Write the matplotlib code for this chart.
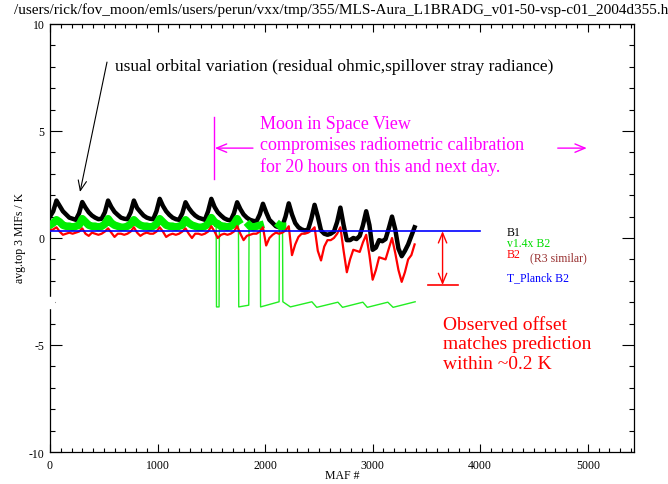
import numpy as np
import matplotlib
matplotlib.use("Agg")
import matplotlib.pyplot as plt
from matplotlib.ticker import MultipleLocator
from matplotlib.patches import Rectangle

plt.rcParams["font.family"] = "Liberation Serif"

# MAF grid of the B1 / B2 traces (one sample every 30 MAF)
maf = np.arange(0, 3400, 30)

# B1, avg. top 3 MIFs (K)
b1 = [1.0, 1.25, 1.75, 1.5, 1.25, 1.1, 0.95, 0.9, 0.85, 1.15,
      1.68, 1.42, 1.2, 1.05, 0.95, 0.88, 0.9, 1.2, 1.75, 1.45,
      1.22, 1.08, 0.95, 0.9, 0.88, 1.2, 1.75, 1.4, 1.22, 1.05,
      0.95, 0.9, 0.88, 1.25, 1.83, 1.5, 1.25, 1.08, 0.95, 0.88,
      0.85, 1.15, 1.67, 1.4, 1.2, 1.05, 0.95, 0.9, 0.85, 1.25,
      1.83, 1.45, 1.2, 1.05, 0.92, 0.85, 0.82, 1.15, 1.67, 1.35,
      1.1, 0.95, 0.85, 0.8, 0.78, 1.1, 1.6, 1.2, 0.85, 0.7,
      0.55, 0.5, 0.55, 1.0, 1.62, 1.1, 0.7, 0.5, 0.4, 0.35,
      0.4, 0.9, 1.55, 1.0, 0.35, 0.2, 0.15, 0.2, 0.3, 0.75,
      1.42, 0.6, -0.1, -0.1, 0.0, -0.05, 0.1, 0.6, 1.25, 0.6,
      -0.55, -0.45, -0.1, -0.15, -0.05, 0.45, 1.0, 0.4, -0.5, -0.85,
      -0.6, -0.3, 0.1, 0.5]

# B2 (K)
b2 = [0.35, 0.4, 0.5, 0.3, 0.15, 0.2, 0.25, 0.2, 0.25, 0.3,
      0.45, 0.2, 0.1, 0.25, 0.2, 0.15, 0.2, 0.3, 0.45, 0.25,
      0.05, 0.2, 0.2, 0.15, 0.2, 0.3, 0.5, 0.25, 0.1, 0.2,
      0.25, 0.2, 0.2, 0.3, 0.5, 0.3, 0.05, 0.15, 0.2, 0.15,
      0.2, 0.3, 0.45, 0.2, 0.0, 0.2, 0.2, 0.15, 0.2, 0.3,
      0.55, 0.3, 0.0, 0.15, 0.2, 0.15, 0.2, 0.3, 0.55, 0.2,
      -0.1, 0.1, 0.15, 0.2, 0.2, 0.3, 0.5, -0.35, 0.0, 0.15,
      0.25, 0.2, 0.25, 0.35, 0.55, -0.8, -0.3, 0.05, 0.2, 0.2,
      0.25, 0.35, 0.5, -0.6, -1.05, -0.4, -0.1, -0.1, 0.0, 0.2,
      0.5, -0.6, -1.6, -1.0, -0.55, -0.6, -0.65, -0.2, 0.15, -0.8,
      -1.95, -1.5, -0.9, -0.95, -1.0, -0.5, 0.0, -0.7, -1.5, -2.05,
      -1.6, -1.0, -0.8, -0.3]

# v1.4x B2, with its drop-outs to about -3 K
green_maf = list(range(0, 1560, 30)) + [
    1545, 1548, 1572, 1575, 1590, 1620, 1650, 1680, 1710, 1740, 1752,
    1755, 1848, 1851, 1860, 1890, 1920, 1955, 1958, 2130, 2133,
    2145, 2162, 2165, 2235, 2435, 2480, 2677, 2720, 2909, 2950,
    3141, 3190, 3395]
green_k = [0.6, 0.7, 0.85, 0.75, 0.6, 0.55, 0.55, 0.5, 0.55, 0.6,
           0.9, 0.75, 0.6, 0.55, 0.55, 0.5, 0.55, 0.65, 0.9, 0.7,
           0.6, 0.55, 0.5, 0.5, 0.55, 0.65, 0.85, 0.7, 0.6, 0.55,
           0.55, 0.5, 0.55, 0.65, 0.9, 0.75, 0.6, 0.55, 0.55, 0.5,
           0.55, 0.6, 0.85, 0.7, 0.6, 0.55, 0.5, 0.5, 0.55, 0.65,
           0.95, 0.75] + [
    0.7, -3.22, -3.22, 0.6, 0.55, 0.55, 0.5, 0.55, 0.65, 0.9, 0.8,
    -3.22, -3.14, 0.6, 0.55, 0.5, 0.55, 0.6, -3.22, -2.98, 0.6,
    0.55, 0.55, -2.98, -3.22, -2.98, -3.24, -3.0, -3.24, -3.0, -3.24,
    -3.0, -3.24, -2.98]

# T_Planck B2 prediction and the observed offset
t_planck = 0.32
t_planck_maf = [0, 4000]
offset_low = -2.2
offset_maf = 3650

path = ("/users/rick/fov_moon/emls/users/perun/vxx/tmp/355/"
        "MLS-Aura_L1BRADG_v01-50-vsp-c01_2004d355.h5")

fig = plt.figure(figsize=(6.68, 4.85), dpi=100)
ax = fig.add_axes([50 / 668, 32 / 485, 584 / 668, 428 / 485])

green_maf = np.array(green_maf)
green_k = np.array(green_k)

ax.plot(maf, b1, color="black", lw=3.2, zorder=2)
ax.plot(green_maf, green_k, color="#22ee22", lw=1.0, zorder=3)
ax.plot(green_maf, np.where(green_k > -1, green_k, np.nan),
        color="#00ee00", lw=5.5, zorder=3)
ax.plot(maf, b2, color="red", lw=1.6, zorder=4)
ax.plot(t_planck_maf, [t_planck, t_planck], color="blue", lw=1.2, zorder=5)

ax.set_xlim(0, 5430)
ax.set_ylim(-10, 10)
ax.set_xticks(range(0, 5001, 1000))
ax.set_yticks([-10, -5, 0, 5, 10])
ax.set_yticklabels(["-10", "-5", "0", "5", "10"])
ax.xaxis.set_minor_locator(MultipleLocator(100))
ax.yaxis.set_minor_locator(MultipleLocator(1))
ax.tick_params(which="both", direction="in", top=True, right=True,
               labelsize=8.5, width=0.8)
ax.tick_params(axis="y", which="major", length=8.6, pad=4)
ax.tick_params(axis="y", which="minor", length=3.6)
ax.tick_params(axis="x", which="major", length=5.8, pad=5)
ax.tick_params(axis="x", which="minor", length=3.2)
for s in ax.spines.values():
    s.set_linewidth(0.9)

fig.text(14 / 668, 1 - 10 / 485, path, ha="left", va="center", fontsize=11)
fig.text(20 / 668, 1 - 238 / 485, "avg.top 3 MIFs / K", rotation=90,
         ha="center", va="center", fontsize=8.5)
fig.text(342 / 668, 1 - 476 / 485, "MAF #", ha="center", va="center",
         fontsize=8.5)
# small blank in the left frame near -3 K
fig.add_artist(Rectangle((46 / 668, 1 - 309 / 485), 8 / 668, 11 / 485,
                         transform=fig.transFigure, color="white", zorder=10))

head = "->,head_length=0.6,head_width=0.25"
ax.annotate("", xy=(279, 2.15), xytext=(530, 8.22),
            arrowprops=dict(arrowstyle=head, color="black", lw=0.8,
                            mutation_scale=12, shrinkA=0, shrinkB=0))
ax.text(604, 8.04,
        "usual orbital variation (residual ohmic,spillover stray radiance)",
        fontsize=12.5, va="center")

ax.plot([1525, 1525], [2.75, 5.65], color="magenta", lw=1)
ax.annotate("", xy=(1533, 4.2), xytext=(1887, 4.2),
            arrowprops=dict(arrowstyle=head, color="magenta", lw=1,
                            mutation_scale=12, shrinkA=0, shrinkB=0))
ax.annotate("", xy=(4991, 4.2), xytext=(4721, 4.2),
            arrowprops=dict(arrowstyle=head, color="magenta", lw=1,
                            mutation_scale=12, shrinkA=0, shrinkB=0))
ax.text(1952, 4.35, "Moon in Space View\ncompromises radiometric calibration\n"
        "for 20 hours on this and next day.", color="magenta", fontsize=13,
        va="center", linespacing=1.3)

ax.annotate("", xy=(offset_maf, offset_low), xytext=(offset_maf, t_planck),
            arrowprops=dict(arrowstyle="<->,head_length=0.6,head_width=0.25",
                            color="red", lw=1, mutation_scale=12,
                            shrinkA=0, shrinkB=0))
ax.plot([offset_maf - 140, offset_maf + 140], [offset_low, offset_low],
        color="red", lw=1.2)
ax.text(3652, -4.95, "Observed offset\nmatches prediction\nwithin ~0.2 K",
        color="red", fontsize=14, va="center", linespacing=1.2)

ax.text(4247, 0.28, "B1", color="black", fontsize=8.5, va="center")
ax.text(4247, -0.23, "v1.4x B2", color="#00dd00", fontsize=8.5, va="center")
ax.text(4247, -0.75, "B2", color="red", fontsize=8.5, va="center")
ax.text(4460, -0.89, "(R3 similar)", color="#983030", fontsize=8.5,
        va="center")
ax.text(4247, -1.82, "T_Planck B2", color="blue", fontsize=8.5, va="center")

fig.savefig("out.png", dpi=100)
